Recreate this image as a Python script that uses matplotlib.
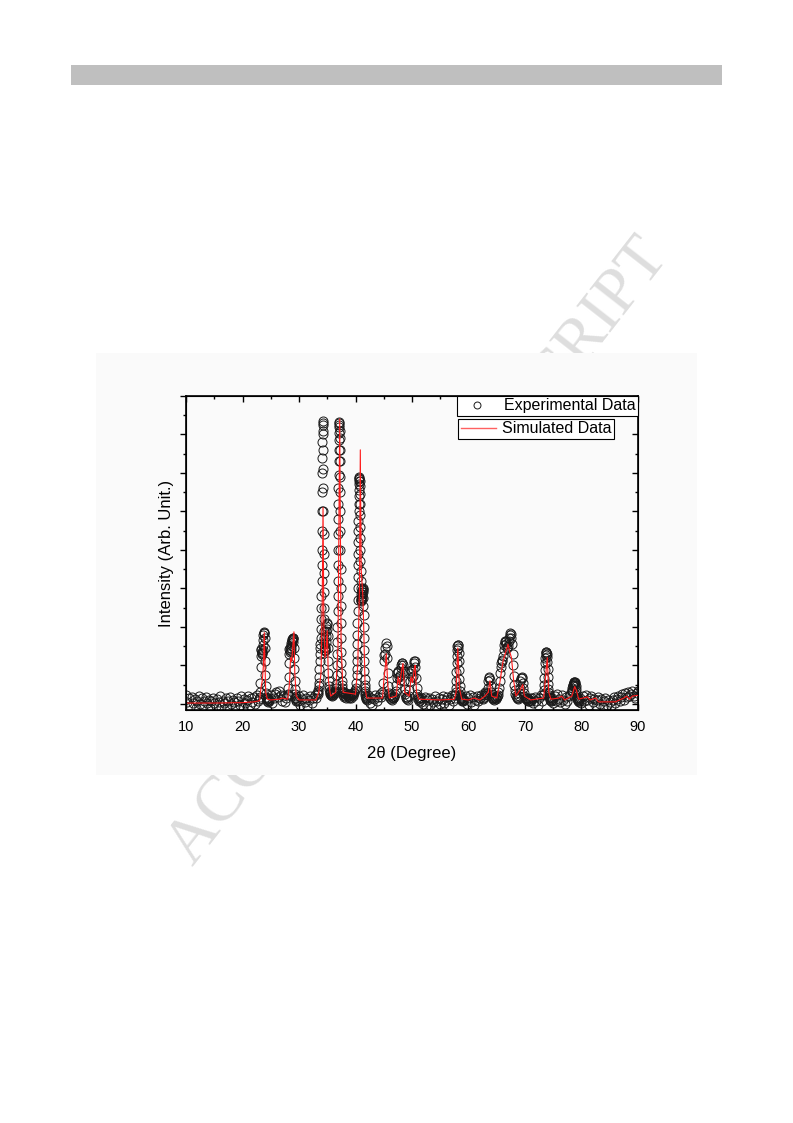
import numpy as np
import matplotlib.pyplot as plt
from matplotlib.patches import Rectangle
from matplotlib.lines import Line2D

plt.rcParams['font.family'] = ['Liberation Sans', 'DejaVu Sans']

# experimental scan (2theta start, step, intensities)
bg_10_23 = [0.22, 0.05, 0.15, -0.08, 0.18, 0.02, 0.12, -0.10, 0.08, 0.20, 0.00, 0.14, -0.07,
            0.07, 0.17, 0.01, 0.11, -0.11, 0.06, 0.16, 0.03, -0.05, 0.13, 0.05, 0.19, -0.08,
            0.08, 0.02, 0.15, -0.10, 0.06, 0.18, 0.00, 0.10, 0.04, -0.06, 0.16, 0.07, -0.02,
            0.20, -0.08, 0.12, 0.03, 0.09, 0.21, -0.04, 0.14, 0.05, 0.18, 0.00, 0.22, 0.08]
pk_24 = [0.12, 0.18, 0.30, 0.55, 0.95, 1.25, 1.40, 1.42, 1.35, 1.30, 1.32, 1.40, 1.52, 1.65,
         1.78, 1.85, 1.87, 1.84, 1.70, 1.45, 1.10, 0.75, 0.45, 0.28, 0.18, 0.12, 0.15, 0.08,
         0.12, 0.05, 0.10, 0.14, 0.06]
bg_25_28 = [0.10, 0.22, 0.02, 0.16, 0.26, 0.30, 0.18, 0.32, 0.24, 0.08, 0.20, 0.04, 0.15, 0.22]
pk_29 = [0.25, 0.40, 0.70, 1.05, 1.30, 1.42, 1.45, 1.40, 1.35, 1.38, 1.45, 1.52, 1.58, 1.62,
         1.66, 1.68, 1.70, 1.70, 1.68, 1.60, 1.45, 1.20, 0.90, 0.60, 0.38, 0.25, 0.16, 0.20,
         0.10, 0.14, 0.06, 0.12]
bg_30_33 = [0.08, 0.20, -0.02, 0.13, 0.22, 0.04, 0.16, -0.06, 0.09, 0.19, 0.02, 0.14, 0.24, 0.15, 0.28]
pk_34a = [0.25, 0.30, 0.35, 0.45, 0.55, 0.70, 0.90, 1.10, 1.30, 1.45, 1.55, 1.70, 1.95]
pk_34b = [2.2, 2.5, 2.8, 3.2, 3.6, 4.0, 4.5, 5.0, 5.5, 6.0, 6.4, 6.8, 7.1, 7.3, 7.35, 7.25,
          7.0, 6.6, 6.1, 5.6, 5.0, 4.4, 3.9, 3.4, 2.9, 2.5, 2.2, 1.9, 1.7, 1.55, 1.45, 1.40, 1.38]
pk_35 = [1.40, 1.48, 1.60, 1.75, 1.90, 2.02, 2.10, 2.08, 1.95, 1.75, 1.45, 1.10, 0.80, 0.58,
         0.45, 0.38, 0.32, 0.30, 0.26, 0.28, 0.24]
bg_36 = [0.22, 0.25, 0.20, 0.28, 0.24, 0.30, 0.27, 0.33, 0.40, 0.52, 0.75]
pk_37 = [1.0, 1.3, 1.6, 2.0, 2.4, 2.8, 3.2, 3.6, 4.0, 4.4, 4.8, 5.2, 5.6, 5.95, 6.3, 6.6, 6.85,
         7.05, 7.2, 7.3, 7.32, 7.25, 7.1, 6.9, 6.6, 6.3, 5.9, 5.5, 5.0, 4.5, 4.0, 3.5, 3.0,
         2.55, 2.1, 1.7, 1.35, 1.05, 0.8, 0.6, 0.48, 0.40, 0.34, 0.30]
bg_38_40 = [0.28, 0.22, 0.30, 0.18, 0.25, 0.20, 0.27, 0.15, 0.22, 0.19, 0.26, 0.14, 0.21,
            0.18, 0.24, 0.16, 0.22, 0.28, 0.20, 0.26, 0.31, 0.27, 0.35, 0.42, 0.55, 0.75]
pk_41a = [0.9, 1.1, 1.3, 1.55, 1.8, 2.1, 2.4, 2.7, 3.0, 3.3, 3.6, 3.9, 4.2, 4.5, 4.75, 5.0,
          5.2, 5.4, 5.55, 5.7, 5.8, 5.85, 5.9, 5.88, 5.8, 5.65, 5.45, 5.2, 4.9, 4.6, 4.3, 4.0,
          3.7, 3.45, 3.2, 3.0, 2.85, 2.75, 2.7]
pk_41b = [2.68, 2.7, 2.75, 2.8, 2.85, 2.9, 2.95, 2.98, 3.0, 2.97, 2.9, 2.75, 2.55, 2.3, 2.0,
          1.7, 1.4, 1.1, 0.85, 0.65, 0.5, 0.4, 0.32, 0.27, 0.22, 0.2, 0.16, 0.18, 0.13, 0.15]
bg_42_44 = [0.10, 0.22, 0.02, 0.16, -0.02, 0.12, 0.24, 0.06, 0.17, 0.25, 0.18, 0.30]
pk_45_51 = [0.25, 0.55, 1.10, 1.27, 1.30, 1.45, 1.58, 1.50, 1.20, 0.80, 0.45, 0.28, 0.20,
            0.15, 0.22, 0.12, 0.18, 0.10, 0.16, 0.14, 0.20, 0.18, 0.25, 0.32, 0.48, 0.68,
            0.80, 0.85, 0.82, 0.70, 0.62, 0.75, 0.92, 1.02, 1.06, 1.05, 1.00, 0.85, 0.60,
            0.38, 0.25, 0.18, 0.15, 0.12, 0.18, 0.10, 0.20, 0.35, 0.60, 0.80, 0.88, 0.85,
            0.70, 0.72, 0.90, 1.05, 1.12, 1.10, 0.95, 0.68, 0.42, 0.25, 0.18, 0.12, 0.16,
            0.08, 0.14, 0.10, 0.05]
bg_52_57 = [0.14, 0.00, 0.18, -0.06, 0.09, 0.16, -0.02, 0.12, 0.04, 0.19, -0.08, 0.08, 0.15,
            0.00, 0.13, 0.21, 0.03, 0.10, 0.17, -0.03, 0.12, 0.22, 0.08, 0.24]
pk_58 = [0.15, 0.22, 0.30, 0.42, 0.60, 0.82, 1.05, 1.25, 1.40, 1.50, 1.53, 1.52, 1.45, 1.32,
         1.12, 0.88, 0.65, 0.45, 0.32, 0.24, 0.18, 0.20, 0.12, 0.16, 0.10, 0.14, 0.08, 0.12, 0.06]
bg_59_62 = [0.10, 0.20, 0.00, 0.14, 0.22, 0.04, 0.17, -0.04, 0.11, 0.21, 0.06, 0.16, 0.24, 0.13]
pk_63_71 = [0.15, 0.18, 0.22, 0.28, 0.30, 0.26, 0.22, 0.28, 0.40, 0.58, 0.68, 0.70, 0.62,
            0.45, 0.30, 0.20, 0.15, 0.12, 0.16, 0.10, 0.14, 0.18, 0.12, 0.16, 0.20, 0.18,
            0.24, 0.30, 0.42, 0.60, 0.80, 0.95, 1.05, 1.10, 1.15, 1.25, 1.40, 1.52, 1.60,
            1.64, 1.62, 1.55, 1.48, 1.45, 1.50, 1.62, 1.72, 1.80, 1.84, 1.82, 1.72, 1.55,
            1.30, 1.00, 0.72, 0.50, 0.35, 0.26, 0.20, 0.16, 0.18, 0.12, 0.15, 0.20, 0.28,
            0.42, 0.58, 0.68, 0.70, 0.66, 0.55, 0.40, 0.28, 0.20, 0.15, 0.12, 0.16, 0.10,
            0.14, 0.08, 0.12, 0.06, 0.10, 0.14, 0.08]
bg_71_73 = [0.14, 0.01, 0.18, 0.07, -0.03, 0.15, 0.22, 0.08, 0.24]
pk_74 = [0.25, 0.35, 0.50, 0.68, 0.88, 1.05, 1.18, 1.28, 1.33, 1.35, 1.34, 1.30, 1.22, 1.08,
         0.90, 0.70, 0.52, 0.38, 0.28, 0.22, 0.18, 0.14, 0.17, 0.10, 0.14, 0.08, 0.12, 0.06, 0.10]
bg_75_78 = [0.16, 0.02, 0.21, 0.08, 0.25, 0.13, 0.04, 0.22, 0.10, 0.00, 0.18, 0.07, 0.20, 0.26, 0.30]
pk_79 = [0.32, 0.36, 0.40, 0.45, 0.48, 0.50, 0.52, 0.54, 0.56, 0.57, 0.56, 0.54, 0.50, 0.45,
         0.38, 0.30, 0.24, 0.18, 0.15, 0.12, 0.16, 0.10, 0.13, 0.07, 0.11, 0.05, 0.09]
bg_80_90 = [0.14, 0.02, 0.19, 0.06, 0.23, 0.10, -0.02, 0.16, 0.21, 0.04, 0.13, -0.06, 0.09,
            0.18, 0.00, 0.12, -0.09, 0.08, 0.16, -0.02, 0.11, 0.04, -0.07, 0.10, 0.17, 0.02,
            0.12, 0.21, 0.06, 0.17, 0.25, 0.11, 0.28, 0.17, 0.31, 0.19, 0.26, 0.33, 0.21,
            0.16, 0.28, 0.32]

seg_start = [10.0, 23.0, 24.75, 28.05, 29.75, 33.3, 33.92, 34.6, 35.7, 36.74, 37.7, 40.24,
             41.03, 42.0, 44.8, 51.75, 57.6, 59.25, 62.6, 71.25, 73.3, 74.75, 78.3, 79.75]
seg_step = [0.25, 0.05, 0.25, 0.05, 0.25, 0.05, 0.02, 0.05, 0.1, 0.02, 0.1, 0.02,
            0.03, 0.25, 0.1, 0.25, 0.05, 0.25, 0.1, 0.25, 0.05, 0.25, 0.05, 0.25]
seg_vals = [bg_10_23, pk_24, bg_25_28, pk_29, bg_30_33, pk_34a, pk_34b, pk_35, bg_36, pk_37,
            bg_38_40, pk_41a, pk_41b, bg_42_44, pk_45_51, bg_52_57, pk_58, bg_59_62, pk_63_71,
            bg_71_73, pk_74, bg_75_78, pk_79, bg_80_90]

exp_x = np.concatenate([s + d * np.arange(len(v)) for s, d, v in zip(seg_start, seg_step, seg_vals)])
exp_y = np.concatenate([np.array(v) for v in seg_vals])

# simulated pattern (red line)
sim_x = [10, 15, 20, 22, 23.0, 23.3, 23.5, 23.7, 23.85, 23.95, 24.1, 24.4, 25, 26.5, 27, 28,
         28.3, 28.5, 28.7, 28.9, 29.1, 29.25, 29.5, 30, 33, 33.5, 33.9, 34.1, 34.25, 34.4,
         34.6, 34.85, 35.0, 35.2, 35.6, 36.5, 36.9, 37.2, 37.45, 37.8, 40.0, 40.4, 40.7,
         40.85, 41.0, 41.3, 41.45, 41.7, 42, 44.8, 45.0, 45.3, 45.45, 45.7, 46, 47.2, 47.55,
         47.8, 48.2, 48.4, 48.7, 49.5, 49.85, 50.1, 50.4, 50.55, 50.8, 51.2, 55, 57.5, 57.8,
         58.1, 58.4, 58.8, 60, 61, 62, 62.9, 63.2, 63.5, 63.8, 64.1, 65, 65.6, 66.1, 66.5,
         67.0, 67.2, 67.6, 68.0, 68.4, 69.3, 69.6, 69.9, 71, 73.3, 73.7, 73.95, 74.2, 74.6,
         76, 76.5, 77, 78.3, 78.8, 79.1, 79.5, 81, 81.5, 82.5, 83, 86, 87.5, 88, 88.5, 89, 90]
sim_y = [0.02, 0.02, 0.03, 0.05, 0.08, 0.45, 0.60, 1.0, 1.85, 1.2, 0.3, 0.12, 0.1, 0.12, 0.15,
         0.12, 0.5, 1.2, 1.1, 1.5, 1.87, 0.8, 0.2, 0.1, 0.1, 0.3, 0.8, 2.5, 5.1, 2.0, 1.2,
         1.5, 1.9, 0.6, 0.2, 0.3, 1.5, 7.4, 1.5, 0.3, 0.25, 1.0, 3.0, 6.6, 3.5, 2.8, 2.0, 0.4,
         0.15, 0.15, 0.6, 1.0, 1.3, 0.5, 0.15, 0.2, 0.7, 0.5, 0.9, 1.05, 0.3, 0.2, 0.7, 0.55,
         0.9, 1.0, 0.3, 0.12, 0.1, 0.12, 0.3, 1.45, 0.4, 0.12, 0.1, 0.15, 0.1, 0.2, 0.25, 0.3,
         0.6, 0.2, 0.15, 0.6, 1.1, 1.3, 1.55, 1.4, 1.2, 0.6, 0.2, 0.4, 0.5, 0.2, 0.1, 0.15,
         0.8, 1.2, 0.3, 0.12, 0.15, 0.2, 0.1, 0.2, 0.45, 0.35, 0.12, 0.18, 0.1, 0.15, 0.05,
         0.05, 0.15, 0.2, 0.12, 0.2, 0.22]

fig = plt.figure(figsize=(7.93, 11.23), dpi=100)

# page decorations: grey header bar, watermark, light figure panel
fig.patches.append(Rectangle((0.0895, 0.9243), 0.8209, 0.0178, transform=fig.transFigure,
                             facecolor='#bfbfbf', edgecolor='none', zorder=0.5))
fig.text(0.528, 0.509, 'ACCEPTED MANUSCRIPT', rotation=52, ha='center', va='center',
         fontsize=47, color='#dedede', family='Liberation Serif', zorder=0.6)
fig.patches.append(Rectangle((0.1211, 0.3099), 0.7579, 0.3758, transform=fig.transFigure,
                             facecolor='#fafafa', edgecolor='none', zorder=0.8))

ax = fig.add_axes([0.2346, 0.3678, 0.5699, 0.2796])
ax.set_zorder(2)
ax.patch.set_alpha(0)

ax.plot(exp_x, exp_y, 'o', mfc='none', mec='#1a1a1a', mew=0.7, ms=6.5, zorder=2)
ax.plot(sim_x, sim_y, '-', color='#ff1a1a', lw=0.8, zorder=3)

ax.set_xlim(10, 90)
ax.set_ylim(-0.16, 8.0)
ax.set_xticks(np.arange(10, 91, 10))
ax.set_xticks(np.arange(15, 90, 10), minor=True)
ax.set_yticks(np.arange(0, 8.1, 1))
ax.set_yticks(np.arange(0.5, 8, 1), minor=True)
ax.set_yticklabels([])
ax.tick_params(axis='x', which='both', direction='in', top=True, labelsize=10.5, pad=7, width=1)
ax.tick_params(axis='x', which='major', length=4)
ax.tick_params(axis='x', which='minor', length=2.5)
ax.tick_params(axis='y', which='both', direction='out', width=1)
ax.tick_params(axis='y', which='major', length=4)
ax.tick_params(axis='y', which='minor', length=2.5)
for sp in ax.spines.values():
    sp.set_linewidth(1.2)

# right-side ticks pointing inward
ax2 = ax.twinx()
ax2.set_ylim(ax.get_ylim())
ax2.set_yticks(np.arange(0, 8.1, 1))
ax2.set_yticks(np.arange(0.5, 8, 1), minor=True)
ax2.set_yticklabels([])
ax2.tick_params(axis='y', which='both', direction='in', width=1)
ax2.tick_params(axis='y', which='major', length=4)
ax2.tick_params(axis='y', which='minor', length=2.5)

ax.set_xlabel('2\u03b8 (Degree)', fontsize=12, labelpad=9)
ax.set_ylabel('Intensity (Arb. Unit.)', fontsize=12, labelpad=1)

h_exp = Line2D([], [], ls='none', marker='o', mfc='none', mec='#1a1a1a', mew=0.7, ms=5)
h_sim = Line2D([], [], color='#ff6060', lw=1.0)
leg1 = ax2.legend([h_exp], ['Experimental Data'], loc='upper right', bbox_to_anchor=(1.0, 1.0),
                  borderaxespad=0, fancybox=False, edgecolor='black', framealpha=1,
                  fontsize=11.5, borderpad=0.15, handlelength=2.2, handletextpad=0.6)
leg1.get_frame().set_linewidth(0.8)
ax2.add_artist(leg1)
leg2 = ax2.legend([h_sim], ['Simulated Data'], loc='upper right', bbox_to_anchor=(0.947, 0.927),
                  borderaxespad=0, fancybox=False, edgecolor='black', framealpha=1,
                  fontsize=11.5, borderpad=0.15, handlelength=2.2, handletextpad=0.4)
leg2.get_frame().set_linewidth(0.8)

fig.savefig('out.png', dpi=100)
